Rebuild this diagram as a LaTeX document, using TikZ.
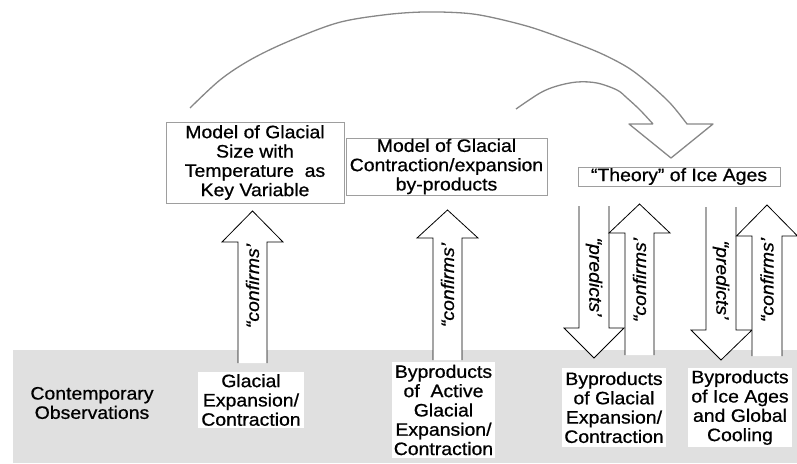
\documentclass[tikz,border=0pt]{standalone}
\usepackage{fontspec}
\setmainfont{Liberation Sans}[FakeStretch=1.08, FakeBold=0.7]
\begin{document}
\begin{tikzpicture}[x=1pt,y=-1pt,
  txt/.style={font=\fontsize{18}{19.3}\selectfont, align=center, inner sep=0pt, text=black},
  modelbox/.style={txt, draw=black!38, line width=0.8pt, fill=white},
  obsbox/.style={txt, fill=white},
  armlabel/.style={font=\fontsize{18}{19.3}\selectfont\itshape, inner sep=0pt},
  blockarrow/.style={draw=black, line width=0.8pt, fill=white, line join=miter},
  bigarc/.style={draw=black!47, line width=1.3pt, line join=round}
]
\useasboundingbox (0,0) rectangle (797,463);

% band of present-day observations
\fill[black!12] (13,350) rectangle (797,463);
\node[txt] (obs) at (92,403) {Contemporary\\Observations};

% hollow curved arrow from the size model to the theory
\draw[bigarc] plot[smooth, tension=0.55] coordinates {(190,108) (220,80) (250,60) (287,42) (337,23) (383,15) (423,12) (463,13) (490,17) (530,27) (567,40) (600,53) (627,67) (647,82) (670,103) (687,124)}
  -- (713,124) -- (671,158) -- (629,124) -- (653,124)
  plot[smooth, tension=0.55] coordinates {(653,124) (640,110) (627,98) (617,90) (597,83) (577,82) (557,86) (540,93) (516,109)};

% upward "confirms" arrows (open at the foot)
\draw[blockarrow] (238,363) -- (238,242) -- (222,242) -- (252.5,211) -- (283,242) -- (267,242) -- (267,363);
\node[armlabel, rotate=90] (c1) at (252.5,286) {“confirms’};

\draw[blockarrow] (433,360) -- (433,238) -- (417,238) -- (447.5,210) -- (478,238) -- (462,238) -- (462,360);
\node[armlabel, rotate=90] (c2) at (447.5,285) {“confirms’};

% downward "predicts" arrows (open at the top)
\draw[blockarrow] (579,206) -- (579,328) -- (564,328) -- (594,358) -- (624,328) -- (609,328) -- (609,206);
\node[armlabel, rotate=-90] (p1) at (594,277) {“predicts’};

\draw[blockarrow] (625,355) -- (625,233) -- (609,233) -- (639.5,204) -- (670,233) -- (654,233) -- (654,355);
\node[armlabel, rotate=90] (c3) at (639.5,280) {“confirms’};

\draw[blockarrow] (706,207) -- (706,330) -- (691,330) -- (721,360) -- (752,330) -- (736,330) -- (736,207);
\node[armlabel, rotate=-90] (p2) at (721,280) {“predicts’};

\draw[blockarrow] (752,356) -- (752,236) -- (736.5,236) -- (767,205) -- (797.5,236) -- (782,236) -- (782,356);
\node[armlabel, rotate=90] (c4) at (767,280) {“confirms’};

% models and theory
\node[modelbox, minimum width=178pt, minimum height=81pt] (sizemodel) at (255,162.5)
  {Model of Glacial\\Size with\\Temperature\ \ as\\Key Variable};
\node[modelbox, minimum width=201pt, minimum height=57pt] (bymodel) at (446.5,166.5)
  {Model of Glacial\\Contraction/expansion\\by-products};
\node[modelbox, minimum width=202pt, minimum height=19pt] (theory) at (679,176.5)
  {“Theory” of Ice Ages};

% observations
\node[obsbox, minimum width=106pt, minimum height=56pt] (glacial) at (251,400)
  {Glacial\\Expansion/\\Contraction};
\node[obsbox, minimum width=103pt, minimum height=96pt] (active) at (443.5,410)
  {Byproducts\\of\ \ Active\\Glacial\\Expansion/\\Contraction};
\node[obsbox, minimum width=104pt, minimum height=79pt] (bygl) at (614,407.5)
  {Byproducts\\of Glacial\\Expansion/\\Contraction};
\node[obsbox, minimum width=104pt, minimum height=79pt] (byice) at (740,407.5)
  {Byproducts\\of Ice Ages\\and Global\\Cooling};
\end{tikzpicture}
\end{document}
